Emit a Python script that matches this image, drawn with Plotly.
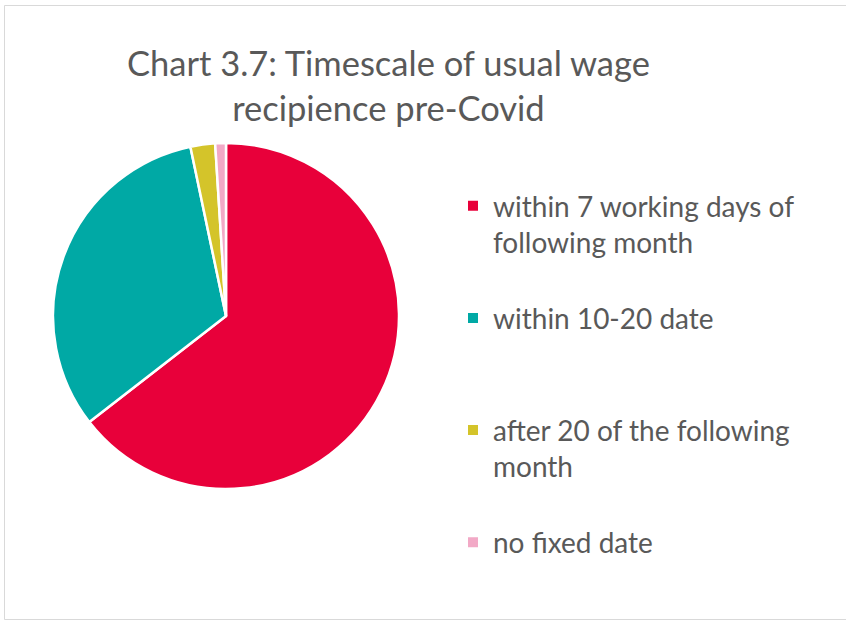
import plotly.graph_objects as go

categories = [
    "within 7 working days of<br>following month<br> ",
    "within 10-20 date<br> <br> ",
    "after 20 of the following<br>month<br> ",
    "no fixed date",
]
values = [64.5, 32.2, 2.3, 1.0]
colors = ["#E8003A", "#00A9A5", "#D4C42A", "#F2A9C6"]

W, H = 846, 621
# pie pixel box
px0, px1, py0, py1 = 53, 399, 143, 489

fig = go.Figure(go.Pie(
    labels=categories,
    values=values,
    sort=False,
    direction="clockwise",
    rotation=0,
    textinfo="none",
    hoverinfo="label+percent",
    marker=dict(colors=colors, line=dict(color="white", width=2.5)),
    domain=dict(x=[px0 / W, px1 / W], y=[1 - py1 / H, 1 - py0 / H]),
))

border = dict(color="#D9D9D9", width=1)
bx0, by_top, by_bot = 4.5 / W, 1 - 5.5 / H, 1 - 619.5 / H

fig.update_layout(
    width=W, height=H,
    margin=dict(l=0, r=0, t=0, b=0),
    paper_bgcolor="white",
    font=dict(family="Lato", color="#595959"),
    legend=dict(
        x=453 / W, xanchor="left",
        y=1 - 181 / H, yanchor="top",
        font=dict(size=28, color="#595959"),
        valign="top",
        itemsizing="constant",
        traceorder="normal",
    ),
    annotations=[dict(
        text="Chart 3.7: Timescale of usual wage<br>recipience pre-Covid",
        xref="paper", yref="paper",
        x=388.5 / W, xanchor="center",
        y=1 - 40 / H, yanchor="top",
        showarrow=False,
        font=dict(size=34.5, color="#595959", family="Lato"),
    )],
    shapes=[
        dict(type="line", xref="paper", yref="paper",
             x0=bx0, x1=bx0, y0=by_bot, y1=by_top, line=border),
        dict(type="line", xref="paper", yref="paper",
             x0=bx0, x1=1.2, y0=by_top, y1=by_top, line=border),
        dict(type="line", xref="paper", yref="paper",
             x0=bx0, x1=1.2, y0=by_bot, y1=by_bot, line=border),
    ],
)

fig.write_html(
    "out.html",
    config={"displayModeBar": False},
    post_script="document.body.style.margin='0';",
)
